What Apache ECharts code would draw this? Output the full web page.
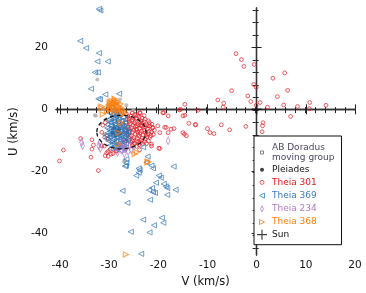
<!DOCTYPE html>
<html><head><meta charset="utf-8">
<script src="https://cdn.jsdelivr.net/npm/echarts@6/dist/echarts.min.js"></script>
<style>html,body{margin:0;padding:0;background:#fff}#c{width:366px;height:293px}</style>
</head><body><div id="c"></div>
<script>
// ---- data (V km/s, U km/s) ----
const V_MAJOR = [-40,-30,-20,-10,0,10,20];
const V_MINOR = [-40,-38,-36,-34,-32,-30,-28,-26,-24,-22,-20,-18,-16,-14,-12,-10,-8,-6,-4,-2,0,2,4,6,8,10,12,14,16,18,20];
const U_MAJOR = [-40,-20,0,20];
const U_MINOR = [-44,-40,-36,-32,-28,-24,-20,-16,-12,-8,-4,0,4,8,12,16,20,24,28,32];

const abDor = [[-32.4,9.6],[-32.9,-1.9],[-32.7,-2.1],[-28.5,1.6],[-29.5,-1.6],[-26.1,-2.7],[-30.2,1.3],[-26.8,-16.5],[-27.0,-16.7],[-30.6,-3.2],[-26.0,-4.0],[-31.0,-8.0],[-25.0,-12.5],[-27.8,3.2],[-29.0,3.0],[-31.2,0.0],[-28.8,1.3],[-26.5,1.3],[-25.1,-0.2]];
const pleiades = [[-29.0,-6.0],[-28.5,-7.0],[-28.0,-6.5],[-29.3,-7.5],[-27.8,-7.8],[-28.7,-8.4]];
const theia301 = [
 [-26.5,-1.5],[-25.6,-2.2],[-24.8,-1.6],[-23.9,-2.4],[-26.0,-3.1],[-25.2,-3.5],[-24.4,-3.0],[-23.5,-3.7],[-22.7,-3.2],[-26.6,-4.2],
 [-25.7,-4.6],[-24.9,-4.3],[-24.1,-4.9],[-23.2,-4.5],[-22.4,-5.0],[-21.8,-4.3],[-26.2,-5.6],[-25.4,-5.9],[-24.6,-5.5],[-23.8,-6.1],
 [-23.0,-5.8],[-22.2,-6.3],[-26.7,-6.8],[-25.8,-7.0],[-25.0,-6.7],[-24.2,-7.3],[-23.4,-7.0],[-22.6,-7.5],[-21.9,-7.1],[-26.3,-8.1],
 [-25.5,-8.4],[-24.7,-8.0],[-23.9,-8.6],[-23.1,-8.3],[-22.3,-8.8],[-26.0,-9.3],[-25.1,-9.7],[-24.3,-9.4],[-23.5,-9.9],[-22.7,-9.6],
 [-25.6,-10.6],[-24.8,-10.9],[-24.0,-10.5],[-23.2,-11.0],[-25.3,-11.6],[-24.4,-11.9],[-22.0,-10.2],[-21.5,-8.5],[-21.2,-6.0],[-27.3,-5.2],
 [-27.0,-9.8],[-23.7,-1.2],[-22.9,-2.0],[-24.5,-6.4],[-25.9,-7.6],[-23.6,-5.2],
 [-26.2,-2.3],[-25.3,-1.2],[-24.2,-2.0],[-23.3,-2.8],[-25.9,-3.9],[-24.7,-3.8],[-23.8,-4.2],[-22.9,-4.0],[-22.0,-3.7],[-25.2,-5.1],
 [-24.3,-5.3],[-23.3,-5.3],[-22.6,-5.6],[-21.7,-5.4],[-25.9,-6.3],[-25.3,-7.4],[-24.4,-6.6],[-23.7,-7.6],[-22.9,-6.7],[-22.1,-7.9],
 [-21.4,-7.3],[-25.8,-8.8],[-24.9,-9.1],[-24.1,-8.1],[-23.3,-9.2],[-22.5,-8.2],[-21.7,-9.0],[-25.3,-10.2],[-24.4,-10.2],[-23.6,-10.7],
 [-22.8,-10.4],[-24.9,-11.3],[-23.9,-11.4],[-22.4,-11.0],[-26.5,-7.6],[-26.6,-10.3],[-21.3,-4.8],[-20.8,-6.7],[-21.0,-8.1],
 [-31.5,-7.4],[-30.9,-9.0],[-30.2,-9.6],[-31.0,-11.8],[-29.8,-12.9],[-30.5,-14.0],[-29.2,-14.2],[-28.5,-13.5],[-30.2,-15.1],[-28.5,-13.3],
 [-23.8,-13.0],[-21.4,-11.2],[-19.9,-12.5],[-18.0,-2.1],
 [-22.1,-5.3],[-21.1,-5.8],[-20.1,-5.3],[-18.4,-5.8],[-17.4,-6.4],[-19.7,-7.5],[-18.0,-7.5],[-16.8,-6.2],[-18.7,-5.8],[-15.0,-7.5],
 [-15.5,0.0],[-18.9,-1.1],[-15.0,-2.1],[-24.6,-1.9],[-25.1,-2.7],[-23.8,-1.1],[-19.1,-1.1],[-15.7,-0.2],
 [-35.8,-9.4],[-40.1,-16.6],[-39.3,-13.1],[-33.7,-15.4],[-32.2,-19.7],[-33.5,-12.8],[-30.2,-13.6],[-19.7,-12.6],[-21.4,-11.8],
 [-33.5,-9.8],[-33.2,-11.5],[-31.5,-11.7],[-30.8,-14.9],[-29.6,-14.4],[-30.8,-4.3],[-31.3,-5.1],
 [-4.2,17.9],[-3.1,16.0],[-2.6,13.8],[-0.5,14.4],[5.7,11.7],[3.3,10.0],[-0.6,8.0],[-0.1,7.1],[-5.1,6.0],[6.3,6.1],
 [-1.8,4.3],[4.2,4.1],[-7.9,3.0],[-6.7,2.0],[-6.8,0.7],[-1.2,2.5],[0.7,2.2],[-0.1,1.3],[2.2,0.7],[5.5,1.4],
 [8.3,0.9],[10.8,2.2],[10.7,0.2],[14.1,1.3],[6.9,-2.3],[-11.9,-0.3],[-14.6,1.6],[-14.6,-1.9],[-13.8,-4.5],[-12.4,-5.0],
 [-12.5,-4.9],[-10.0,-6.2],[-9.5,-7.5],[-8.7,-7.8],[-7.2,-5.0],[-5.5,-6.6],[-2.2,-5.5],[1.2,-5.3],[1.3,-4.3],[1.1,-7.2],
 [-14.7,-8.0],[-14.3,-8.5]
];
const theia369 = [
 [-32.1,32.3],[-31.8,31.8],[-35.9,22.0],[-34.7,19.7],[-32.1,18.1],[-32.4,15.4],[-30.3,15.4],[-32.9,11.9],[-32.3,11.9],[-33.7,6.6],
 [-32.2,3.4],[-31.9,3.2],[-30.8,4.8],[-28.0,5.0],
 [-26.5,-17.3],[-26.6,-18.1],[-24.0,-19.0],[-23.8,-19.5],[-24.5,-21.3],[-24.0,-20.4],[-22.4,-17.1],[-22.2,-15.2],[-21.4,-18.1],[-21.1,-19.0],
 [-19.9,-21.3],[-19.5,-22.0],[-16.9,-18.4],[-27.3,-26.2],[-21.9,-26.0],[-21.3,-25.3],[-21.1,-26.6],[-20.7,-26.9],[-20.5,-23.6],[-18.9,-24.0],
 [-18.5,-24.8],[-18.2,-25.3],[-18.2,-27.5],[-16.5,-25.9],[-21.7,-29.1],[-26.3,-30.1],[-23.1,-35.5],[-19.3,-34.9],[-19.0,-36.5],[-20.9,-37.3],
 [-25.6,-39.4],[-21.8,-39.6],[-23.5,-46.5],[-23.1,-12.2],[-26.8,-18.3],[-26.5,-16.0],
 [-29.5,0.5],[-28.8,-0.5],[-28.2,0.2],[-29.9,-1.2],[-28.5,-1.8],[-27.6,-1.0],[-29.2,-2.5],[-28.0,-2.9],[-27.2,-2.6],[-30.1,-3.3],
 [-29.0,-3.8],[-28.3,-4.1],[-27.5,-3.7],[-26.8,-4.4],[-30.4,-4.9],[-29.6,-5.2],[-28.7,-5.0],[-27.9,-5.6],[-27.1,-5.3],[-26.4,-5.9],
 [-30.0,-6.4],[-29.1,-6.6],[-28.4,-6.2],[-27.6,-6.9],[-26.9,-6.5],[-26.2,-7.2],[-30.3,-7.6],[-29.5,-7.9],[-28.8,-7.4],[-28.0,-8.1],
 [-27.3,-7.8],[-26.5,-8.4],[-29.9,-8.9],[-29.0,-9.2],[-28.3,-9.0],[-27.5,-9.5],[-26.7,-9.3],[-30.2,-10.1],[-29.4,-10.5],[-28.6,-10.3],
 [-27.8,-10.8],[-27.0,-10.6],[-29.8,-11.5],[-28.9,-11.9],[-28.1,-11.6],[-27.3,-12.2],[-28.6,-12.8],[-29.6,-12.6],[-27.7,-13.2],[-30.6,-8.4],
 [-26.1,-10.0],[-28.9,-3.1],[-29.6,-4.3],[-28.2,-6.8],[-27.0,-8.7],[-29.2,-8.5],
 [-29.3,-1.7],[-28.6,-2.2],[-27.9,-1.6],[-29.7,-2.9],[-28.2,-3.4],[-27.4,-4.6],[-29.9,-4.1],[-28.9,-4.6],[-28.1,-5.2],[-29.4,-5.8],
 [-28.6,-5.7],[-27.5,-6.1],[-26.7,-6.0],[-29.8,-7.0],[-29.0,-7.1],[-27.8,-7.2],[-27.0,-7.3],[-26.6,-7.7],[-30.0,-8.1],[-28.5,-8.2],
 [-27.7,-8.7],[-26.9,-9.9],[-28.0,-9.6],[-29.3,-9.7],[-30.5,-9.3],[-29.0,-10.7],[-28.3,-11.1],[-27.5,-11.4],[-26.6,-11.0],[-29.3,-11.2],
 [-28.4,-12.3],[-27.0,-12.6],[-30.4,-6.0],[-26.8,-3.3],[-28.6,-1.1],[-29.4,-0.3]
];
const theia234 = [[-35.6,-10.7],[-35.4,-11.7],[-32.1,-11.7],[-31.9,-10.7],[-31.8,-12.6],[-27.1,-10.7],[-26.8,-12.8],[-27.5,-13.1],[-26.1,-13.6],[-26.5,-12.2],[-27.9,-12.0],[-25.8,-11.5],[-28.3,-13.8],[-26.9,-14.2],[-18.0,-10.1],[-27.6,-11.8],[-25.5,-13.0]];
const theia368 = [[-29.5,2.7],[-29.0,2.2],[-28.6,1.6],[-29.8,1.4],[-28.1,1.1],[-29.2,0.7],[-28.5,0.2],[-27.5,0.0],[-29.9,-0.2],[-28.9,-0.6],[-27.9,-0.9],[-27.0,-0.5],[-26.8,-1.1],[-31.7,0.5],[-31.5,0.9],[-31.3,-1.6],[-27.6,-4.3],[-28.1,-7.5],[-28.1,-11.2],[-24.4,-13.8],[-24.8,-14.4],[-22.1,-16.8],[-22.2,-17.0],[-26.6,-46.7],[-29.3,1.9],[-28.3,2.4],[-28.8,2.9],[-29.7,2.0],
 [-30.1,0.7],[-29.6,0.0],[-28.9,0.3],[-28.2,-0.3],[-27.6,0.6],[-29.1,1.4],[-28.4,1.9],[-29.9,2.4],[-28.9,3.4],[-27.7,1.7],[-30.4,-0.6],[-27.3,-1.6]];
const sun = [[0,0]];
const ellipse = [[-27.5,-7.3,5.0,5.4]]; // centre V, centre U, radius V, radius U

const FONT = 'DejaVu Sans';
const chart = echarts.init(document.getElementById('c'), null, {renderer:'canvas'});
const gridRect = {left:53, top:8, width:302, height:249};
const XR = {min:-40.8, max:20}, YR = {min:-46.9, max:32.6};
const frame = {show:true, lineStyle:{color:'#333', width:1.3}};
function xAx(grid, pos, ticks, len, line, labels){
  return {type:'value', gridIndex:grid, position:pos, min:XR.min, max:XR.max, splitLine:{show:false},
    axisLine: line ? frame : {show:false},
    axisTick:{show:true, inside:true, length:len, customValues:ticks, lineStyle:{color:'#222', width:1}},
    axisLabel: labels ? {show:true, customValues:V_MAJOR, fontFamily:FONT, fontSize:10.5, color:'#111', margin:5} : {show:false},
    name: labels ? 'V (km/s)' : '', nameLocation:'middle', nameGap:11, nameTextStyle:{fontFamily:FONT, fontSize:11.5, color:'#111'}};
}
function yAx(grid, pos, ticks, len, line, labels){
  return {type:'value', gridIndex:grid, position:pos, min:YR.min, max:YR.max, splitLine:{show:false},
    axisLine: line ? frame : {show:false},
    axisTick:{show:true, inside:true, length:len, customValues:ticks, lineStyle:{color:'#222', width:1}},
    axisLabel: labels ? {show:true, customValues:U_MAJOR, fontFamily:FONT, fontSize:10.5, color:'#111', margin:8} : {show:false},
    name: labels ? 'U (km/s)' : '', nameLocation:'middle', nameGap:31, nameRotate:90, nameTextStyle:{fontFamily:FONT, fontSize:11.5, color:'#111'}};
}
const hollow = (c, w) => ({color:c.replace(/[\d.]+\)$/, '0)'), borderColor:c, borderWidth:w || 1});
const LEFT_TRI = 'path://M0,5L10,0L10,10Z';
const RIGHT_TRI = 'path://M10,5L0,0L0,10Z';
const DIAMOND = 'path://M2,0L4,4L2,8L0,4Z';
const PLUS = 'path://M4,0h1.4v4h4v1.4h-4v4h-1.4v-4h-4v-1.4h4z';
// legend icons padded inside a 10x10 box (the M points set the box)
const L_RECT = 'path://M0,0M10,10M3.5,3.5h3v3h-3z';
const L_DOT = 'path://M0,0M10,10M3,5a2,2 0 1,0 4,0a2,2 0 1,0 -4,0z';
const L_CIRC = 'path://M0,0M10,10M3,5a2,2 0 1,0 4,0a2,2 0 1,0 -4,0z';
const L_LTRI = 'path://M0,0M10,10M2.5,5L7.5,2.5L7.5,7.5Z';
const L_DIAM = 'path://M0,0M10,10M5,2L6.5,5L5,8L3.5,5Z';
const L_RTRI = 'path://M0,0M10,10M7.5,5L2.5,2.5L2.5,7.5Z';
const L_PLUS = 'path://M0,0M10,10M4.4,0h1.2v4.4h4.4v1.2h-4.4v4.4h-1.2v-4.4h-4.4v-1.2h4.4z';
const AB_NAME = 'AB Doradus\nmoving group';

chart.setOption({
  animation:false,
  grid:[Object.assign({}, gridRect), Object.assign({}, gridRect)],
  xAxis:[xAx(0,'bottom',V_MAJOR,5,true,true), xAx(0,'top',V_MAJOR,5,true,false),
         xAx(1,'bottom',V_MINOR,3,false,false), xAx(1,'top',V_MINOR,3,false,false)],
  yAxis:[yAx(0,'left',U_MAJOR,5,true,true), yAx(0,'right',U_MAJOR,5,true,false),
         yAx(1,'left',U_MINOR,3,false,false), yAx(1,'right',U_MINOR,3,false,false)],
  legend:{
    orient:'vertical', left:254, top:136, itemWidth:10, itemHeight:10, itemGap:2.2, symbolKeepAspect:true,
    padding:[6.5,7,5,2.5], backgroundColor:'#fff', borderColor:'#111', borderWidth:1, borderRadius:0,
    selectedMode:false,
    textStyle:{fontFamily:FONT, fontSize:9, lineHeight:10},
    data:[
      {name:AB_NAME, icon:L_RECT, itemStyle:{color:'rgba(255,255,255,0)', borderColor:'#6b5f78', borderWidth:1}, textStyle:{color:'#4d4560'}},
      {name:'Pleiades', icon:L_DOT, itemStyle:{color:'#111', borderWidth:0}, textStyle:{color:'#111'}},
      {name:'Theia 301', icon:L_CIRC, itemStyle:{color:'rgba(232,51,59,0)', borderColor:'#e8333b', borderWidth:1}, textStyle:{color:'#e41a1c'}},
      {name:'Theia 369', icon:L_LTRI, itemStyle:{color:'rgba(61,127,193,0)', borderColor:'#3d7fc1', borderWidth:1}, textStyle:{color:'#3b7cc0'}},
      {name:'Theia 234', icon:L_DIAM, itemStyle:{color:'rgba(178,124,203,0)', borderColor:'#b27ccb', borderWidth:1}, textStyle:{color:'#b07cc8'}},
      {name:'Theia 368', icon:L_RTRI, itemStyle:{color:'rgba(255,127,14,0)', borderColor:'#ff7f0e', borderWidth:1}, textStyle:{color:'#ff7f0e'}},
      {name:'Sun', icon:L_PLUS, itemStyle:{color:'#111', borderWidth:0}, textStyle:{color:'#111'}}
    ]
  },
  series:[
    {name:AB_NAME, type:'scatter', data:abDor, symbol:'circle', symbolSize:4, itemStyle:{color:'#b0b0b0'}},
    {name:'Pleiades', type:'scatter', data:pleiades, symbol:'circle', symbolSize:4, itemStyle:{color:'#111'}},
    {name:'Theia 301', type:'scatter', data:theia301, symbol:'circle', symbolSize:3.8, itemStyle:hollow('rgba(228,30,40,0.9)', 1)},
    {name:'Theia 369', type:'scatter', data:theia369, symbol:LEFT_TRI, symbolSize:5.2, itemStyle:hollow('rgba(45,115,180,0.85)', 1)},
    {name:'Theia 234', type:'scatter', data:theia234, symbol:DIAMOND, symbolSize:[3.8,7.5], itemStyle:hollow('rgba(170,110,200,0.85)', 1)},
    {name:'Theia 368', type:'scatter', data:theia368, symbol:RIGHT_TRI, symbolSize:5.2, itemStyle:hollow('rgba(255,127,14,0.9)', 1.1)},
    {name:'Sun', type:'scatter', data:sun, symbol:PLUS, symbolSize:10, itemStyle:{color:'#111'}},
    {name:'region', type:'custom', data:ellipse, silent:true, z:5,
      renderItem:function(params, api){
        const c = api.coord([api.value(0), api.value(1)]);
        const rx = api.size([api.value(2), 0])[0];
        const ry = api.size([0, api.value(3)])[1];
        return {type:'ellipse', shape:{cx:c[0], cy:c[1], rx:rx, ry:ry},
          style:{fill:null, stroke:'#111', lineWidth:1.3, lineDash:[4,3]}};
      }}
  ]
});
</script></body></html>
